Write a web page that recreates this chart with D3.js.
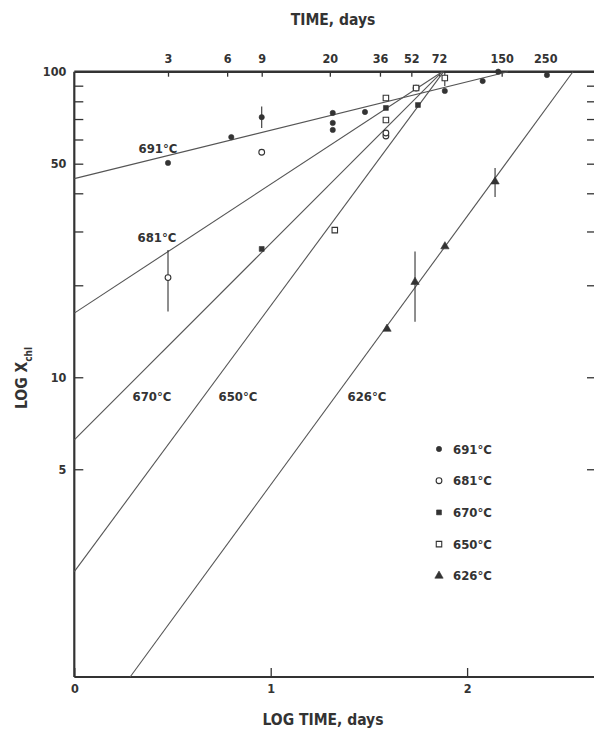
<!DOCTYPE html>
<html>
<head>
<meta charset="utf-8">
<script src="https://cdn.jsdelivr.net/npm/d3@7"></script>
<style>
  html, body { margin: 0; padding: 0; background: #fff; overflow: hidden; }
  svg text { font-family: "Liberation Sans Narrow", "DejaVu Sans Condensed", "Roboto Condensed", sans-serif; font-weight: bold; fill: #333; }
</style>
</head>
<body>
<svg id="chart" width="594" height="743"></svg>
<script>
// ---------- data ----------
const seriesNames = ["691°C", "681°C", "670°C", "650°C", "626°C"];
const seriesSymbols = ["circleFilled", "circleOpen", "squareFilled", "squareOpen", "triangleFilled"];
// fitted lines: log10(X) = intercept + slope * log10(t)
const lineIntercepts = [1.650, 1.210, 0.795, 0.364, -0.2305];
const lineSlopes = [0.1585, 0.4217, 0.643, 0.870, 0.8785];

// observations (time in days, X value), with optional error bars [low, high]
const days691 = [3.0, 6.3, 9.0, 20.7, 20.7, 20.7, 30.2, 77, 120, 144, 255];
const vals691 = [50.3, 61.1, 71.0, 73.3, 68.0, 64.5, 73.8, 86.5, 93.2, 100, 97.5];
const err691 = [null, null, [65.4, 76.9], null, null, null, null, null, null, null, null];

const days681 = [3.0, 9.0, 38.6, 38.6, 55];
const vals681 = [21.2, 54.5, 61.6, 63.0, 88.4];
const err681 = [[16.4, 26.1], null, null, null, null];

const days670 = [9.0, 38.6, 56.2];
const vals670 = [26.3, 76.1, 77.8];
const err670 = [null, null, null];

const days650 = [21.2, 38.6, 38.6, 55, 77];
const vals650 = [30.3, 82.0, 69.5, 88.4, 95.4];
const err650 = [null, null, null, null, [89.8, 99.8]];

const days626 = [39.1, 54.3, 77.1, 138.8];
const vals626 = [14.4, 20.5, 26.8, 43.7];
const err626 = [null, [15.2, 25.8], null, [38.9, 48.4]];

const topTickDays = [3, 6, 9, 20, 36, 52, 72, 150, 250];
const yTickValues = [90, 80, 70, 60, 50, 40, 30, 20, 10, 5];
const yTickLabels = [100, 50, 10, 5];
const xTickValues = [0, 1, 2];

// ---------- layout ----------
const L = 74.3, R = 598, T = 71.7, B = 677;
const xMax = (R - L) / 196.4;
const svg = d3.select("#chart");
const x = d3.scaleLinear().domain([0, xMax]).range([L, R]);
const xDays = d3.scaleLog().domain([1, Math.pow(10, xMax)]).range([L, R]);
const y = d3.scaleLog().domain([1.045, 100]).range([B, T]);
const ink = "#333";

// axes
const gLeft = svg.append("g").attr("transform", `translate(${L},0)`)
  .call(d3.axisLeft(y).tickValues(yTickValues.concat([100])).tickSize(-9).tickPadding(8)
    .tickFormat(d => yTickLabels.includes(d) ? d : ""));
const gRight = svg.append("g").attr("transform", `translate(${R - 3},0)`)
  .call(d3.axisRight(y).tickValues(yTickValues).tickSize(-8).tickFormat(""));
const gTop = svg.append("g").attr("transform", `translate(0,${T})`)
  .call(d3.axisTop(xDays).tickValues(topTickDays).tickSize(-5).tickPadding(9).tickFormat(d3.format("d")));
const gBottom = svg.append("g").attr("transform", `translate(0,${B})`)
  .call(d3.axisBottom(x).tickValues(xTickValues).tickSize(-9).tickPadding(7).tickFormat(d3.format("d")));

[gLeft, gRight, gTop, gBottom].forEach(g => {
  g.select(".domain").remove();
  g.selectAll(".tick line").attr("stroke", ink).attr("stroke-width", 1.3);
  g.selectAll(".tick text").attr("font-size", 12.5).attr("fill", ink);
});
gLeft.selectAll(".tick").filter(d => d === 100).select("line").remove();

// frame (right side lies just outside the visible window, as in the original scan)
svg.append("line").attr("x1", L).attr("x2", R).attr("y1", T).attr("y2", T).attr("stroke", ink).attr("stroke-width", 2.6);
svg.append("line").attr("x1", L).attr("x2", L).attr("y1", T).attr("y2", B).attr("stroke", ink).attr("stroke-width", 2.2);
svg.append("line").attr("x1", L).attr("x2", R).attr("y1", B).attr("y2", B).attr("stroke", ink).attr("stroke-width", 2.2);

// fitted lines
const yLo = Math.log10(y.domain()[0]);
lineIntercepts.forEach((a, i) => {
  const b = lineSlopes[i];
  const t0 = Math.max(0, (yLo - a) / b);
  const t1 = Math.min(xMax, (2 - a) / b);
  const pts = [t0, t1].map(t => [x(t), y(Math.pow(10, a + b * t))]);
  svg.append("path").attr("d", d3.line()(pts)).attr("fill", "none").attr("stroke", "#555").attr("stroke-width", 1.1);
});

// markers
function drawSymbol(g, kind, cx, cy) {
  let type, size, filled;
  if (kind === "circleFilled") { type = d3.symbolCircle; size = 22; filled = true; }
  else if (kind === "circleOpen") { type = d3.symbolCircle; size = 26; filled = false; }
  else if (kind === "squareFilled") { type = d3.symbolSquare; size = 24; filled = true; }
  else if (kind === "squareOpen") { type = d3.symbolSquare; size = 30; filled = false; }
  else { type = d3.symbolTriangle; size = 30; filled = true; }
  g.append("path").attr("d", d3.symbol().type(type).size(size)())
    .attr("transform", `translate(${cx},${cy})`)
    .attr("fill", filled ? ink : "#fff").attr("stroke", ink).attr("stroke-width", filled ? 0.6 : 1.1);
}

const allDays = [days691, days681, days670, days650, days626];
const allVals = [vals691, vals681, vals670, vals650, vals626];
const allErr = [err691, err681, err670, err650, err626];
const gPts = svg.append("g");
allDays.forEach((ds, s) => {
  ds.forEach((d, i) => {
    const cx = xDays(d), cy = y(allVals[s][i]);
    const e = allErr[s][i];
    if (e) {
      gPts.append("line").attr("x1", cx).attr("x2", cx).attr("y1", y(e[0])).attr("y2", y(e[1]))
        .attr("stroke", ink).attr("stroke-width", 1.1);
    }
    drawSymbol(gPts, seriesSymbols[s], cx, cy);
  });
});

// line labels
const labelPos = [[158, 148], [157, 237], [152, 396], [238, 396], [367, 396]];
seriesNames.forEach((n, i) => {
  svg.append("text").attr("x", labelPos[i][0]).attr("y", labelPos[i][1]).attr("dy", "0.35em")
    .attr("text-anchor", "middle").attr("font-size", 13).text(n);
});

// legend
seriesNames.forEach((n, i) => {
  const ly = 449 + i * 31.7;
  drawSymbol(svg, seriesSymbols[i], 439, ly);
  svg.append("text").attr("x", 453).attr("y", ly).attr("dy", "0.35em").attr("font-size", 13).text(n);
});

// titles
svg.append("text").attr("x", 333).attr("y", 20).attr("dy", "0.35em").attr("text-anchor", "middle")
  .attr("font-size", 15.5).text("TIME,  days");
svg.append("text").attr("x", 323).attr("y", 720).attr("dy", "0.35em").attr("text-anchor", "middle")
  .attr("font-size", 15.5).text("LOG TIME, days");
const yl = svg.append("text").attr("transform", "translate(22,378) rotate(-90)").attr("dy", "0.35em")
  .attr("text-anchor", "middle").attr("font-size", 15.5);
yl.append("tspan").text("LOG X");
yl.append("tspan").attr("font-size", 10).attr("dy", "0.45em").text("chl");
</script>
</body>
</html>
